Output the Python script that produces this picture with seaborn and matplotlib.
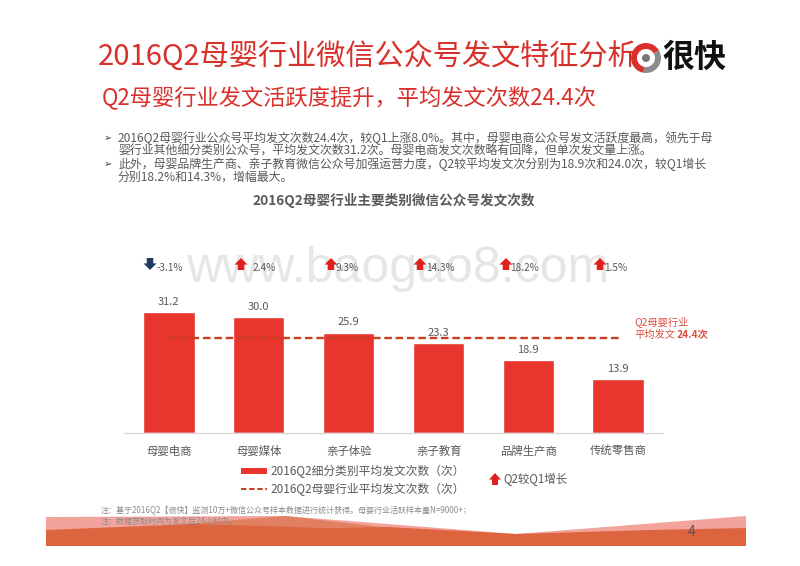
import matplotlib
matplotlib.use("Agg")
import matplotlib.pyplot as plt
import pandas as pd
import seaborn as sns
from matplotlib.patches import Polygon, Rectangle, Wedge, Circle

categories = ["母婴电商", "母婴媒体", "亲子体验", "亲子教育", "品牌生产商", "传统零售商"]
post_counts = [31.2, 30.0, 25.9, 23.3, 18.9, 13.9]
growth = [-3.1, 2.4, 9.3, 14.3, 18.2, 1.5]
growth_arrow_x = [149, 241, 331, 420, 506, 600]
growth_label_x = [170, 264, 347, 440, 525, 616]
industry_avg = 24.4

title = "2016Q2母婴行业微信公众号发文特征分析"
subtitle = "Q2母婴行业发文活跃度提升，平均发文次数24.4次"
body_lines = [
    (118, 138, "2016Q2母婴行业公众号平均发文次数24.4次，较Q1上涨8.0%。其中，母婴电商公众号发文活跃度最高，领先于母"),
    (118, 151, "婴行业其他细分类别公众号，平均发文次数31.2次。母婴电商发文次数略有回降，但单次发文量上涨。"),
    (118, 164, "此外，母婴品牌生产商、亲子教育微信公众号加强运营力度，Q2较平均发文次分别为18.9次和24.0次，较Q1增长"),
    (118, 177, "分别18.2%和14.3%，增幅最大。"),
]
chart_title = "2016Q2母婴行业主要类别微信公众号发文次数"
notes = [
    "注：基于2016Q2【很快】监测10万+微信公众号样本数据进行统计获得。母婴行业活跃样本量N=9000+；",
    "注：数据获取时间为发文后24小时内。",
]

RED = "#e8352e"
DASH = "#c8401f"
GREY = "#595959"

sns.set_theme(style="white")
plt.rcParams["font.family"] = ["Noto Sans CJK SC", "DejaVu Sans"]

df = pd.DataFrame({"category": categories, "count": post_counts})

fig = plt.figure(figsize=(8, 5.66), dpi=100)

# pixel canvas for the slide furniture
bg = fig.add_axes([0, 0, 1, 1], zorder=0)
bg.set_xlim(0, 800)
bg.set_ylim(566, 0)
bg.axis("off")

# footer waves
bg.add_patch(Polygon([(46, 517), (285, 516), (516, 534), (746, 516), (746, 546), (46, 546)],
                     color="#f2a39c", lw=0))
bg.add_patch(Polygon([(150, 527), (285, 516), (390, 528)], color="#e08060", lw=0))
bg.add_patch(Polygon([(46, 530), (192, 524), (330, 528), (388, 527), (516, 534), (650, 530), (746, 528),
                      (746, 546), (46, 546)], color="#dc6540", lw=0))

bg.text(398, 269, "www.baogao8.com", fontsize=36, color="#e6e6e6", ha="center", va="center", family="Liberation Sans")

bg.text(98, 58, title, fontsize=21, color="#d8302a", va="center")
bg.text(102, 98, subtitle, fontsize=16, color="#d8302a", va="center")
for x, y, line in body_lines:
    bg.text(x, y, line, fontsize=8.6, color=GREY, va="center")
for y in [138, 164]:
    bg.text(108, y, "➢", fontsize=7, color="#404040", va="center", ha="center", family="DejaVu Sans")
bg.text(394, 200, chart_title, fontsize=9.8, color=GREY, weight="bold", ha="center", va="center")

# logo
bg.add_patch(Wedge((646, 58), 15, 100, 330, width=6, color="#d8302a", lw=0))
bg.add_patch(Wedge((646, 58), 15, -30, 100, width=6, color="#8c8c8c", lw=0))
bg.add_patch(Circle((646, 58), 4, color="#777777", lw=0))
bg.text(694, 58, "很快", fontsize=23, color="#111111", weight="bold", style="italic", ha="center", va="center")

bg.text(692, 532, "4", fontsize=10, color="#555555", ha="center", va="center")
for y, note in zip([511, 521], notes):
    bg.text(101, y, note, fontsize=5.8, color="#8c8c8c", va="center")

# main chart, y scale is about 3.88 px per post
left, right, top, bottom = 124, 663, 240, 433
ax = fig.add_axes([left / 800, 1 - bottom / 566, (right - left) / 800, (bottom - top) / 566], zorder=1)
ax.patch.set_alpha(0)
sns.barplot(data=df, x="category", y="count", color=RED, width=0.57, saturation=1, ax=ax)
ax.set_xlim(-0.5, 5.5)
ax.set_ylim(0, (bottom - top) / 3.88)
ax.set_xlabel("")
ax.set_ylabel("")
ax.set_yticks([])
ax.tick_params(axis="x", length=0, labelsize=8.2, labelcolor=GREY, pad=9)
sns.despine(ax=ax, left=True)
ax.spines["bottom"].set_color("#d9d9d9")
ax.spines["bottom"].set_linewidth(1)

for i, v in enumerate(post_counts):
    ax.text(i, v + 2.6, f"{v:.1f}", fontsize=8, color=GREY, ha="center", va="center")

ax.plot([0, 5.03], [industry_avg, industry_avg], color=DASH, lw=1.7, ls=(0, (3.2, 1.6)))
ax.text(5.18, industry_avg + 4.3, "Q2母婴行业", fontsize=7.4, color="#d8503f", va="center")
ax.text(5.18, industry_avg + 0.9, "平均发文", fontsize=7.4, color="#d8503f", va="center")
ax.text(5.65, industry_avg + 0.9, "24.4次", fontsize=7.4, color="#d8503f", weight="bold", va="center")


def arrow(x, y, up=True, color="#e0201c", w=6.5, h=12):
    # small block arrow in pixel coordinates, y is the tip
    s = 1 if up else -1
    bg.add_patch(Polygon([(x, y), (x + w, y + s * h * 0.55), (x + w * 0.5, y + s * h * 0.55),
                          (x + w * 0.5, y + s * h), (x - w * 0.5, y + s * h),
                          (x - w * 0.5, y + s * h * 0.55), (x - w, y + s * h * 0.55)],
                         color=color, lw=0, zorder=3))


for ax_x, lab_x, g in zip(growth_arrow_x, growth_label_x, growth):
    if g < 0:
        arrow(ax_x + 1, 270, up=False, color="#1f3a63")
    else:
        arrow(ax_x, 258)
    bg.text(lab_x, 268, f"{g}%", fontsize=7.2, color=GREY, ha="center", va="center")

# legend, hand placed like on the slide
bg.add_patch(Rectangle((241, 468), 26, 6, color=RED, lw=0))
bg.plot([241, 267], [489, 489], color=DASH, lw=1.5, ls=(0, (2.6, 1.3)))
bg.text(270, 471, "2016Q2细分类别平均发文次数（次）", fontsize=8.5, color=GREY, va="center")
bg.text(270, 489, "2016Q2母婴行业平均发文次数（次）", fontsize=8.5, color=GREY, va="center")
arrow(495, 473, w=6, h=12)
bg.text(503, 479, "Q2较Q1增长", fontsize=8.3, color=GREY, va="center")

fig.savefig("out.png", dpi=100, facecolor="white")
